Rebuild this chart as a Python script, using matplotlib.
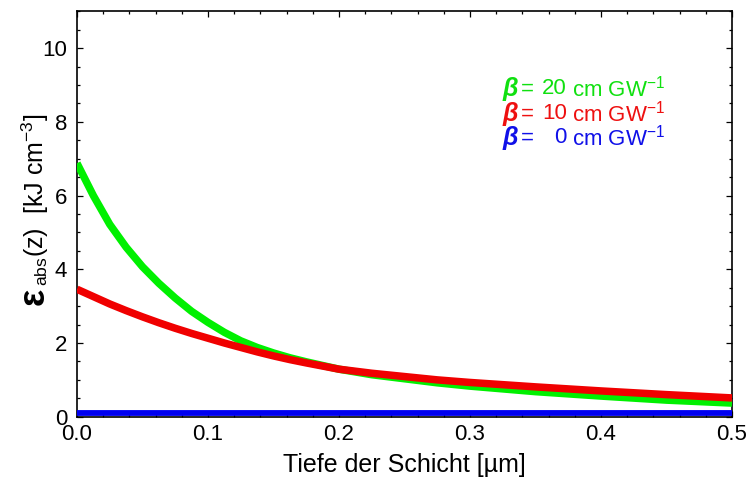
import matplotlib
matplotlib.use("Agg")
import matplotlib.pyplot as plt
from matplotlib.ticker import MultipleLocator, FixedLocator, FixedFormatter

# Depth into the layer (µm)
depth_um = [0.0, 0.0125, 0.025, 0.0375, 0.05, 0.0625, 0.075, 0.0875, 0.1, 0.1125,
            0.125, 0.1375, 0.15, 0.1625, 0.175, 0.2, 0.225, 0.25, 0.275, 0.30,
            0.35, 0.40, 0.45, 0.50]

# Absorbed energy density (kJ cm^-3) for each two-photon absorption coefficient
eps_beta20 = [6.88, 6.00, 5.22, 4.60, 4.07, 3.62, 3.22, 2.86, 2.56, 2.29,
              2.06, 1.88, 1.73, 1.60, 1.49, 1.29, 1.14, 1.03, 0.92, 0.83,
              0.68, 0.56, 0.45, 0.37]
eps_beta10 = [3.46, 3.26, 3.06, 2.88, 2.71, 2.55, 2.40, 2.26, 2.13, 2.00,
              1.88, 1.76, 1.65, 1.55, 1.46, 1.29, 1.18, 1.09, 1.00, 0.93,
              0.81, 0.70, 0.60, 0.51]
eps_beta0 = [0.09, 0.09, 0.09, 0.09, 0.09, 0.09, 0.09, 0.09, 0.09, 0.09,
             0.09, 0.09, 0.09, 0.09, 0.09, 0.09, 0.09, 0.09, 0.09, 0.09,
             0.09, 0.09, 0.09, 0.09]

beta_labels = ["20", "10", "0"]
x_ticks = [0.0, 0.1, 0.2, 0.3, 0.4, 0.5]
x_tick_labels = ["0.0", "0.1", "0.2", "0.3", "0.4", "0.5"]
y_ticks = [0, 2, 4, 6, 8, 10]
y_tick_labels = ["0", "2", "4", "6", "8", "10"]

line_colors = ["#00f000", "#f00000", "#0000f0"]
text_colors = ["#10e010", "#ee1010", "#1010e8"]

plt.rcParams.update({
    "font.family": ["Liberation Sans", "DejaVu Sans"],
    "mathtext.fontset": "custom",
    "mathtext.rm": "Liberation Sans",
    "mathtext.it": "Liberation Sans:italic",
    "mathtext.bf": "Liberation Sans:bold",
})

fig = plt.figure(figsize=(7.51, 4.84), dpi=100)
ax = fig.add_axes([0.1025, 0.139, 0.8722, 0.8376])

ax.plot(depth_um, eps_beta20, color=line_colors[0], lw=5.4, solid_capstyle="butt",
        solid_joinstyle="round", zorder=3)
ax.plot(depth_um, eps_beta10, color=line_colors[1], lw=5.4, solid_capstyle="butt",
        solid_joinstyle="round", zorder=4)
ax.plot(depth_um, eps_beta0, color=line_colors[2], lw=4.2, solid_capstyle="butt", zorder=5)

ax.set_xlim(0, 0.5)
ax.set_ylim(0, 11)
ax.xaxis.set_major_locator(FixedLocator(x_ticks))
ax.xaxis.set_major_formatter(FixedFormatter(x_tick_labels))
ax.xaxis.set_minor_locator(MultipleLocator(0.02))
ax.yaxis.set_major_locator(FixedLocator(y_ticks))
ax.yaxis.set_major_formatter(FixedFormatter(y_tick_labels))
ax.yaxis.set_minor_locator(MultipleLocator(0.5))

ax.tick_params(which="both", direction="in", top=True, right=True, width=0.9, colors="black")
ax.tick_params(which="major", length=4.5)
ax.tick_params(which="minor", length=2.5)
ax.tick_params(axis="x", labelsize=16, pad=5)
ax.tick_params(axis="y", labelsize=16, pad=7)
for sp in ax.spines.values():
    sp.set_linewidth(1.2)

ax.set_xlabel("Tiefe der Schicht [µm]", fontsize=18, labelpad=6)

# y-axis label assembled from a large bold epsilon followed by the rest
fig.canvas.draw()
renderer = fig.canvas.get_renderer()
y0 = 0.37
x_base = 0.058
eps_txt = fig.text(x_base, y0, "ε", rotation=90, rotation_mode="anchor",
                   ha="left", va="baseline", fontsize=26, fontweight="bold")
bb = eps_txt.get_window_extent(renderer)
eps_h = bb.height / fig.bbox.height
fig.text(x_base, y0 + eps_h + 0.004,
         r"$_{\mathrm{abs}}$(z)  [kJ cm$^{-3}$]", rotation=90, rotation_mode="anchor",
         ha="left", va="baseline", fontsize=18)

# Legend of beta values, written in the line colours
legend_y = [0.809, 0.747, 0.688]
for lbl, col, yy in zip(beta_labels, text_colors, legend_y):
    ax.text(0.649, yy, "β", transform=ax.transAxes, color=col, fontsize=18,
            fontweight="bold", fontstyle="italic", ha="left", va="center")
    ax.text(0.677, yy, "=", transform=ax.transAxes, color=col, fontsize=16,
            ha="left", va="center")
    ax.text(0.748, yy, lbl, transform=ax.transAxes, color=col, fontsize=16,
            ha="right", va="center")
    ax.text(0.756, yy, r"cm GW$^{\mathrm{-1}}$", transform=ax.transAxes, color=col,
            fontsize=16, ha="left", va="center")

fig.savefig("out.png", dpi=100)
